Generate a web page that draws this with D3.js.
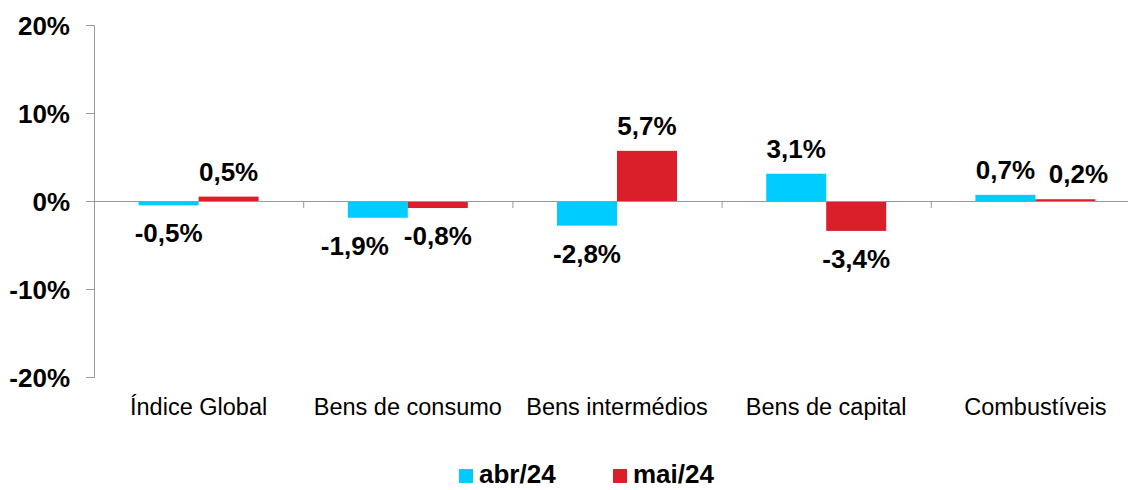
<!DOCTYPE html>
<html>
<head>
<meta charset="utf-8">
<script src="https://cdn.jsdelivr.net/npm/d3@7"></script>
<style>
  body { margin: 0; background: #fff; }
  svg { font-family: "Liberation Sans", Arial, sans-serif; display: block; }
</style>
</head>
<body>
<div id="chart"></div>
<script>
// dados
const categories = ["Índice Global", "Bens de consumo", "Bens intermédios", "Bens de capital", "Combustíveis"]
const series = ["abr/24", "mai/24"]
const abr24 = [-0.5, -1.9, -2.8, 3.1, 0.7]
const mai24 = [0.5, -0.8, 5.7, -3.4, 0.2]
const yTicks = [-20, -10, 0, 10, 20]

const colors = { "abr/24": "#00CCFF", "mai/24": "#DA1F2A" }

const W = 1128, H = 490
const plotLeft = 94, plotRight = 1140, plotTop = 25, plotBottom = 377

const svg = d3.select("#chart").append("svg")
  .attr("width", W).attr("height", H)

const y = d3.scaleLinear().domain([-20, 20]).range([plotBottom, plotTop])

// escala das categorias
const x0 = d3.scaleBand()
  .domain(categories)
  .range([plotLeft, plotRight])
  .paddingInner(0.4264)
  .paddingOuter(0.2132)

const x1 = d3.scaleBand()
  .domain(series)
  .range([0, x0.bandwidth()])

// limites das categorias (marcas do eixo x)
const xEdge = d3.scaleLinear().domain([0, categories.length]).range([plotLeft, plotRight])

// formato português: vírgula decimal, hífen como sinal menos
const pt = d3.formatLocale({ decimal: ",", thousands: ".", grouping: [3], currency: ["", " €"], minus: "-" })
const fmt = v => pt.format(".1f")(v) + "%"

// eixo y
const yAxis = svg.append("g")
  .attr("transform", `translate(${plotLeft},0)`)
  .call(d3.axisLeft(y).tickValues(yTicks).tickSize(8).tickPadding(16).tickFormat(d => d + "%"))
yAxis.select(".domain").attr("stroke", "#999")
yAxis.selectAll(".tick line").attr("stroke", "#999")
yAxis.selectAll(".tick text")
  .attr("font-size", 26).attr("font-weight", "bold").attr("fill", "#000")
  .attr("dy", "0.35em")

const rows = categories.map((c, i) => ({ cat: c, values: [
  { key: "abr/24", v: abr24[i] },
  { key: "mai/24", v: mai24[i] }
]}))

// barras
const groups = svg.append("g").selectAll("g")
  .data(rows)
  .join("g")
    .attr("transform", d => `translate(${x0(d.cat)},0)`)

groups.selectAll("rect")
  .data(d => d.values)
  .join("rect")
    .attr("x", d => x1(d.key))
    .attr("width", x1.bandwidth())
    .attr("y", d => y(Math.max(0, d.v)))
    .attr("height", d => Math.abs(y(d.v) - y(0)))
    .attr("fill", d => colors[d.key])

// eixo x (linha do zero)
const xAxis = svg.append("g")
  .attr("transform", `translate(0,${y(0)})`)
  .call(d3.axisBottom(xEdge).ticks(categories.length).tickSize(7).tickFormat(""))
xAxis.select(".domain").attr("stroke", "#999")
xAxis.selectAll(".tick line").attr("stroke", "#999")

// rótulos de valores (pequenos ajustes para evitar sobreposição)
const nudge = { "Bens de consumo|abr/24": -23, "Combustíveis|mai/24": 13 }
groups.selectAll("text")
  .data(d => d.values.map(v => ({ ...v, cat: d.cat })))
  .join("text")
    .attr("x", d => x1(d.key) + x1.bandwidth() / 2 + (nudge[d.cat + "|" + d.key] || 0))
    .attr("y", d => d.v >= 0 ? y(d.v) - 16 : y(d.v) + 37)
    .attr("text-anchor", "middle")
    .attr("font-size", 26)
    .attr("font-weight", "bold")
    .text(d => fmt(d.v))

// nomes das categorias
svg.append("g").selectAll("text")
  .data(categories)
  .join("text")
    .attr("x", d => x0(d) + x0.bandwidth() / 2)
    .attr("y", 415)
    .attr("text-anchor", "middle")
    .attr("font-size", 23.5)
    .text(d => d)

// legenda
const legend = svg.append("g")
const legX = [459, 613]
series.forEach((s, i) => {
  legend.append("rect")
    .attr("x", legX[i]).attr("y", 469)
    .attr("width", 14).attr("height", 14)
    .attr("fill", colors[s])
  legend.append("text")
    .attr("x", legX[i] + 20).attr("y", 483)
    .attr("font-size", 26).attr("font-weight", "bold")
    .text(s)
})
</script>
</body>
</html>
